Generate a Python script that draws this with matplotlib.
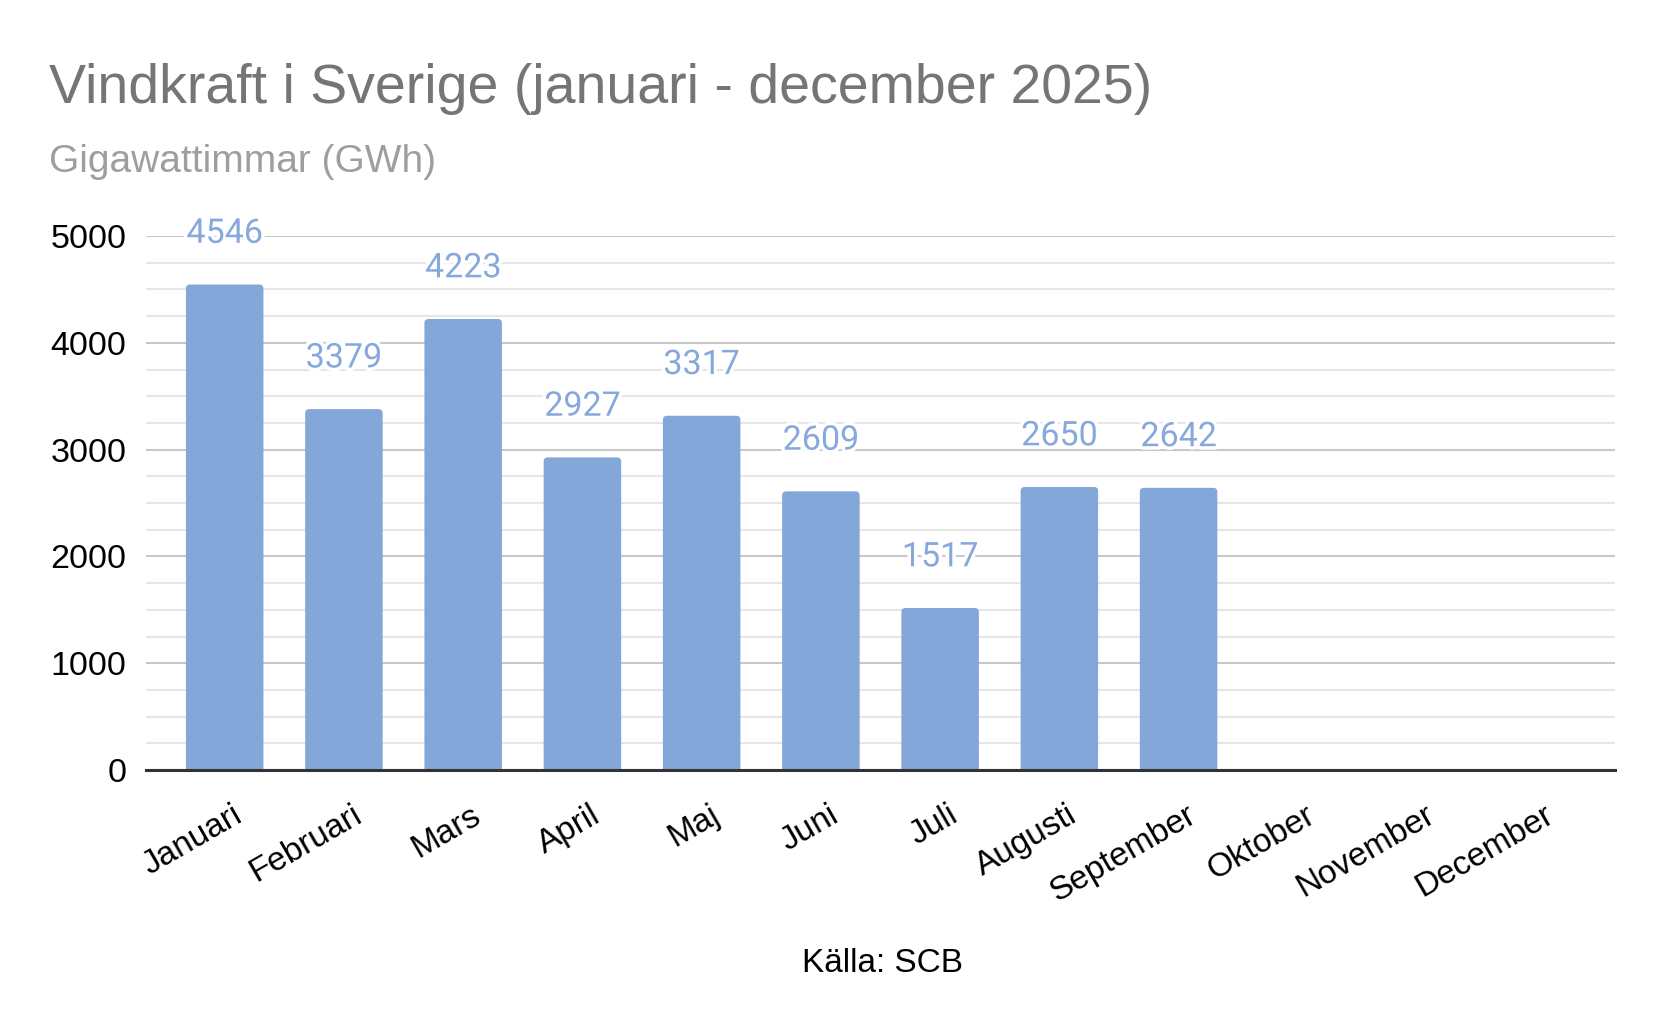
import matplotlib
matplotlib.use("Agg")
import matplotlib.pyplot as plt
import matplotlib.patheffects as pe
from matplotlib.patches import FancyBboxPatch, BoxStyle
from matplotlib.transforms import ScaledTranslation
from matplotlib.ticker import MultipleLocator

months = ["Januari", "Februari", "Mars", "April", "Maj", "Juni", "Juli",
          "Augusti", "September", "Oktober", "November", "December"]
values = [4546, 3379, 4223, 2927, 3317, 2609, 1517, 2650, 2642]
title = "Vindkraft i Sverige (januari - december 2025)"
subtitle = "Gigawattimmar (GWh)"
source = "Källa: SCB"

W, H = 1666, 1030
fig = plt.figure(figsize=(W / 100, H / 100), dpi=100)
ax = fig.add_axes([146 / W, 1 - 770 / H, (1615 - 146) / W, (770 - 236) / H])

bar_color = "#83a7d9"
x = list(range(len(values)))
bars = ax.bar(x, values, width=0.65, color=bar_color, zorder=3)

ax.set_xlim(-0.66, len(months) - 1 + 0.66)
ax.set_ylim(0, 5000)

# rounded top corners
for rect in bars.patches:
    x0, w, h = rect.get_x(), rect.get_width(), rect.get_height()
    fb = FancyBboxPatch((x0, -60), w, h + 60,
                        boxstyle=BoxStyle.Round(pad=0, rounding_size=0.035),
                        mutation_aspect=1100, facecolor=bar_color,
                        edgecolor="none", zorder=3, clip_on=True)
    ax.add_patch(fb)
    rect.set_visible(False)

# grid
ax.yaxis.set_major_locator(MultipleLocator(1000))
ax.yaxis.set_minor_locator(MultipleLocator(250))
ax.grid(axis="y", which="major", color="#c8c8c8", lw=1.5, zorder=1)
ax.grid(axis="y", which="minor", color="#e6e6e6", lw=1.5, zorder=0)
ax.axhline(0, color="#333333", lw=2.2, zorder=4, clip_on=False)
for s in ax.spines.values():
    s.set_visible(False)

ax.tick_params(axis="both", which="both", length=0)
ax.tick_params(axis="y", labelsize=24.5, pad=14)
ax.set_yticks([0, 1000, 2000, 3000, 4000, 5000])
for lab in ax.get_yticklabels():
    lab.set_fontfamily("Liberation Sans")

ax.set_xticks(range(len(months)))
ax.set_xticklabels(months, rotation=30, ha="right", va="center",
                   rotation_mode="anchor", fontsize=24,
                   fontfamily="Liberation Sans")
ax.tick_params(axis="x", pad=31)
off = ScaledTranslation(0.15, 0, fig.dpi_scale_trans)
for lab in ax.get_xticklabels():
    lab.set_transform(lab.get_transform() + off)

# data labels
for xi, v in zip(x, values):
    ax.annotate(str(v), (xi, v), xytext=(0, 30), textcoords="offset points",
                ha="center", va="baseline", fontsize=24.5, color="#86a8dc",
                fontfamily="Roboto", zorder=5, annotation_clip=False,
                path_effects=[pe.withStroke(linewidth=5, foreground="white")])

fig.text(49 / W, 1 - 103 / H, title, fontsize=40, color="#757575",
         fontfamily="Liberation Sans", ha="left", va="baseline")
fig.text(49 / W, 1 - 172 / H, subtitle, fontsize=28, color="#9e9e9e",
         fontfamily="Liberation Sans", ha="left", va="baseline")
fig.text(883 / W, 1 - 964 / H, source, fontsize=24, color="black",
         fontfamily="Liberation Sans", ha="center", va="center")

fig.savefig("out.png", dpi=100, facecolor="white")
